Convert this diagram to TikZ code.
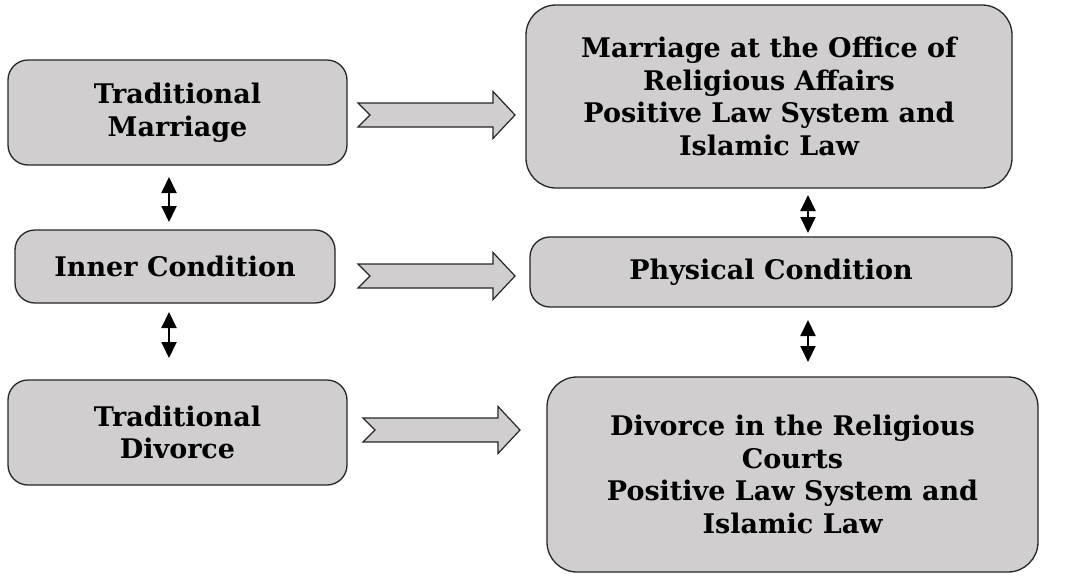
\documentclass[tikz,border=0pt]{standalone}
\usepackage{fontspec}
\setmainfont{DejaVu Serif}
\usetikzlibrary{arrows.meta}
\definecolor{boxgray}{HTML}{D0CECE}
\definecolor{edgegray}{HTML}{262626}
\tikzset{
  box/.style={draw=edgegray, line width=1.3pt, fill=boxgray, align=center,
    inner sep=0pt, font=\fontsize{27}{32.5}\selectfont\bfseries},
  smallbox/.style={box, rounded corners=20pt},
  bigbox/.style={box, rounded corners=30pt},
  dbl/.style={line width=2pt, {Triangle[width=15pt,length=16pt]}-{Triangle[width=15pt,length=16pt]}},
  blockarrow/.style={draw=edgegray, line width=1.2pt, fill=boxgray, line join=miter}
}
\newcommand{\myblockarrow}[3]{%
  \path[blockarrow] (#1,#3-12) -- (#2-22,#3-12) -- (#2-22,#3-23.5) -- (#2,#3)
    -- (#2-22,#3+23.5) -- (#2-22,#3+12) -- (#1,#3+12) -- (#1+12,#3) -- cycle;}
\begin{document}
\begin{tikzpicture}[x=1pt,y=-1pt]
\useasboundingbox (0,0) rectangle (1085,576);
\node[smallbox, minimum width=339pt, minimum height=105pt] (tm) at (177.5,112.5) {Traditional\\Marriage};
\node[smallbox, minimum width=320pt, minimum height=73pt] (ic) at (175,266.5) {Inner Condition};
\node[smallbox, minimum width=339pt, minimum height=105pt] (td) at (177.5,432.5) {Traditional\\Divorce};
\node[bigbox, minimum width=486pt, minimum height=183pt] (rt) at (769,96.5) {Marriage at the Office of\\Religious Affairs\\Positive Law System and\\Islamic Law};
\node[smallbox, minimum width=482pt, minimum height=70pt] (pc) at (771,272) {Physical Condition};
\node[bigbox, minimum width=491pt, minimum height=195pt] (rb) at (792.5,474.5) {Divorce in the Religious\\Courts\\Positive Law System and\\Islamic Law};
\myblockarrow{358}{515}{115}
\myblockarrow{358}{515}{276}
\myblockarrow{363}{520}{430}
\coordinate (l1a) at (169,177); \coordinate (l1b) at (169,222);
\coordinate (l2a) at (169,312); \coordinate (l2b) at (169,358);
\coordinate (r1a) at (808,195); \coordinate (r1b) at (808,233);
\coordinate (r2a) at (808,320); \coordinate (r2b) at (808,362);
\draw[dbl] (l1a) -- (l1b);
\draw[dbl] (l2a) -- (l2b);
\draw[dbl] (r1a) -- (r1b);
\draw[dbl] (r2a) -- (r2b);
\end{tikzpicture}
\end{document}
